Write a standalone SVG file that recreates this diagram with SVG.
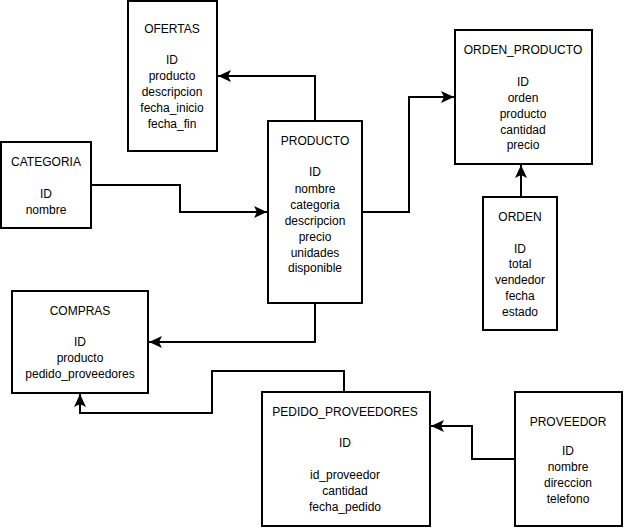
<svg xmlns="http://www.w3.org/2000/svg" width="625" height="528" viewBox="0 0 625 528">
<style>
.box{fill:#fff;stroke:#000;stroke-width:2}
.t{font-family:"Liberation Sans",Arial,sans-serif;font-size:12px;fill:#000;text-anchor:middle}
.c{fill:none;stroke:#000;stroke-width:2;marker-end:url(#arr)}
</style>
<defs>
<marker id="arr" markerUnits="userSpaceOnUse" markerWidth="14" markerHeight="12" viewBox="0 0 14 12" refX="13" refY="6" orient="auto">
<path d="M0,0 L13,6 L0,12 L3,6 Z" fill="#000"/>
</marker>
</defs>
<rect width="625" height="528" fill="#fff"/>
<g id="connectors">
<path class="c" d="M315,121 V76 H218"/>
<path class="c" d="M362,212 H409 V97 H454"/>
<path class="c" d="M521,197 V165"/>
<path class="c" d="M91,185 H180 V212 H267"/>
<path class="c" d="M315,303 V342 H149"/>
<path class="c" d="M344,392 V371 H212 V413 H80 V394"/>
<path class="c" d="M514,459 H472 V426 H431"/>
</g>
<g id="ofertas">
<rect class="box" x="128" y="1" width="89" height="150"/>
<text class="t" x="172" y="33">OFERTAS</text>
<text class="t" x="172" y="64">ID</text>
<text class="t" x="172" y="80">producto</text>
<text class="t" x="172" y="96">descripcion</text>
<text class="t" x="172" y="112">fecha_inicio</text>
<text class="t" x="172" y="128">fecha_fin</text>
</g>
<g id="producto">
<rect class="box" x="268" y="121" width="94" height="182"/>
<text class="t" x="315" y="145">PRODUCTO</text>
<text class="t" x="315" y="176">ID</text>
<text class="t" x="315" y="193">nombre</text>
<text class="t" x="315" y="209">categoria</text>
<text class="t" x="315" y="225">descripcion</text>
<text class="t" x="315" y="241">precio</text>
<text class="t" x="315" y="257">unidades</text>
<text class="t" x="315" y="272">disponible</text>
</g>
<g id="orden_producto">
<rect class="box" x="455" y="30" width="137" height="134"/>
<text class="t" x="523" y="54">ORDEN_PRODUCTO</text>
<text class="t" x="523" y="86">ID</text>
<text class="t" x="523" y="102">orden</text>
<text class="t" x="523" y="118">producto</text>
<text class="t" x="523" y="134">cantidad</text>
<text class="t" x="523" y="149">precio</text>
</g>
<g id="orden">
<rect class="box" x="483" y="197" width="74" height="133"/>
<text class="t" x="520" y="221">ORDEN</text>
<text class="t" x="520" y="253">ID</text>
<text class="t" x="520" y="268">total</text>
<text class="t" x="520" y="284">vendedor</text>
<text class="t" x="520" y="300">fecha</text>
<text class="t" x="520" y="316">estado</text>
</g>
<g id="categoria">
<rect class="box" x="1" y="142" width="90" height="86"/>
<text class="t" x="46" y="166">CATEGORIA</text>
<text class="t" x="46" y="198">ID</text>
<text class="t" x="46" y="214">nombre</text>
</g>
<g id="compras">
<rect class="box" x="12" y="291" width="136" height="102"/>
<text class="t" x="80" y="315">COMPRAS</text>
<text class="t" x="80" y="346">ID</text>
<text class="t" x="80" y="362">producto</text>
<text class="t" x="80" y="378">pedido_proveedores</text>
</g>
<g id="pedido_proveedores">
<rect class="box" x="262" y="392" width="168" height="134"/>
<text class="t" x="345" y="416">PEDIDO_PROVEEDORES</text>
<text class="t" x="345" y="447">ID</text>
<text class="t" x="345" y="479">id_proveedor</text>
<text class="t" x="345" y="495">cantidad</text>
<text class="t" x="345" y="511">fecha_pedido</text>
</g>
<g id="proveedor">
<rect class="box" x="515" y="392" width="107" height="134"/>
<text class="t" x="568" y="426">PROVEEDOR</text>
<text class="t" x="568" y="455">ID</text>
<text class="t" x="568" y="471">nombre</text>
<text class="t" x="568" y="487">direccion</text>
<text class="t" x="568" y="503">telefono</text>
</g>
</svg>
